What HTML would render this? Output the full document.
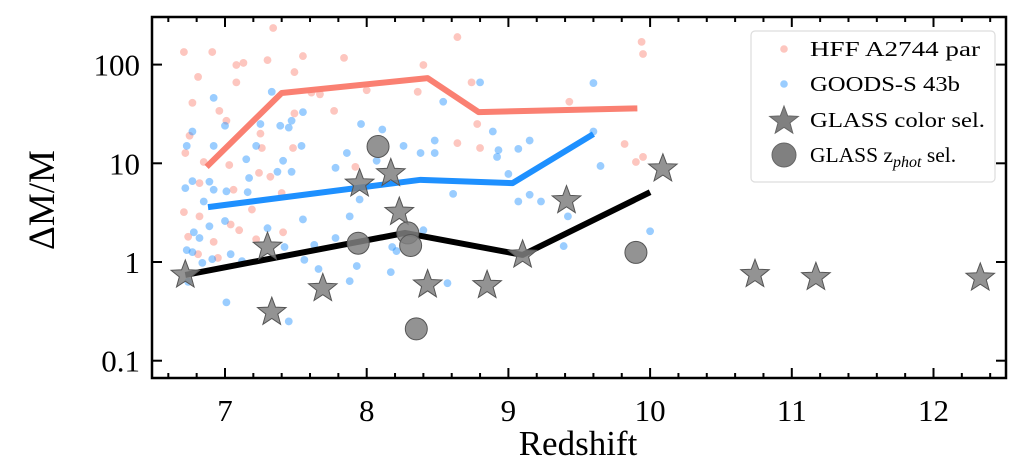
<!DOCTYPE html>
<html><head><meta charset="utf-8"><style>
html,body{margin:0;padding:0;background:#fff;}
svg{display:block;font-family:"Liberation Serif","DejaVu Serif",serif;}
</style></head><body>
<svg id="chart" width="1024" height="473" viewBox="0 0 1024 473" xmlns="http://www.w3.org/2000/svg">
<g id="marks"></g>
<g id="axes"></g>
<text x="578" y="455" font-size="35" text-anchor="middle">Redshift</text>
<text x="0" y="0" font-size="37" text-anchor="middle" transform="translate(54,200) rotate(-90)">ΔM/M</text>
<g>
<rect x="751" y="31" width="244" height="151" rx="4" fill="#fff" stroke="#ddd" stroke-width="1.2"/>
<circle cx="784" cy="49" r="3.8" fill="#fa8072" opacity="0.45"/>
<text x="810" y="56" font-size="21.5" textLength="170" lengthAdjust="spacingAndGlyphs">HFF A2744 par</text>
<circle cx="784" cy="84" r="3.8" fill="#1e90ff" opacity="0.45"/>
<text x="810" y="91" font-size="21.5" textLength="150" lengthAdjust="spacingAndGlyphs">GOODS-S 43b</text>
<polygon id="legstar" fill="#808080" stroke="#666" stroke-width="1"/>
<text x="810" y="127" font-size="21.5" textLength="175" lengthAdjust="spacingAndGlyphs">GLASS color sel.</text>
<circle cx="784" cy="155" r="12" fill="#808080" stroke="#666" stroke-width="1"/>
<text x="810" y="162" font-size="21.5">GLASS z<tspan font-style="italic" font-size="16" dy="5">phot</tspan><tspan dy="-5"> sel.</tspan></text>
</g>
</svg>
<script>
const hffZ=[6.71,6.91,7.34,7.08,7.13,7.30,7.55,7.84,8.40,6.81,7.08,7.49,6.77,6.96,7.01,7.49,7.77,7.25,7.26,7.48,6.75,6.72,6.85,7.03,7.24,7.32,7.92,6.82,7.06,7.40,7.19,6.71,6.82,7.04,7.10,6.74,6.92,7.41,7.22,6.81,6.95,8.0,8.36,7.67,7.61,8.64,9.94,9.95,8.74,9.43,8.78,8.64,8.80,9.82,9.90,9.95];
const hffV=[134,134,235,99,104,111,122,117,99,75,66,84,41,34,27,32,34,20,14.3,14.3,19,12.7,10.3,9.6,8.0,7.3,9.2,6.3,5.4,5.0,3.4,3.2,2.9,2.4,2.1,1.8,1.6,2.0,1.7,1.2,1.1,55,53,50,52,190,170,128,66,42,25,16,14.3,15.7,10.3,11.6];
const goodsZ=[6.92,7.33,7.55,7.0,7.25,7.39,7.45,7.47,7.96,8.11,8.54,6.77,6.73,6.92,7.22,7.54,8.26,8.48,8.48,7.86,8.07,8.38,7.15,7.41,7.47,7.37,7.78,7.17,6.77,6.72,6.89,6.92,7.01,7.16,6.85,7.95,7.55,7.88,6.89,6.78,7.0,6.82,7.30,6.73,6.77,7.04,6.84,6.91,7.12,7.42,7.63,7.56,7.66,7.78,7.93,8.17,8.18,8.21,8.40,8.57,7.88,7.01,7.45,6.74,8.80,9.60,9.6,8.89,9.15,8.93,8.92,9.07,9.65,9.0,8.61,9.07,9.15,9.23,9.42,9.39,10.0];
const goodsV=[46,53,33,24,25,24,23,27,25,22,42,21,15,15,15,15,15,17,12.7,12.7,10.6,12.7,11,10.6,8.2,8.2,9,7.1,6.6,5.6,6.5,5.4,5.2,5.1,4.1,4.3,2.7,2.9,2.3,2.0,2.6,1.75,2.2,1.32,1.26,1.2,0.98,1.07,1.02,1.42,1.49,1.05,0.85,1.75,0.91,0.79,1.42,1.29,2.1,0.61,0.64,0.39,0.25,0.63,66,65,21,21,17,13.6,11.6,14,9.4,7.8,4.9,4.1,4.8,4.1,2.9,1.45,2.05];
const hffLineZ=[6.87,7.40,8.43,8.79,9.91];
const hffLineV=[9.2,51.6,73,33,36];
const goodsLineZ=[6.88,8.38,9.03,9.60];
const goodsLineV=[3.6,6.8,6.3,19.8];
const glassLineZ=[6.72,8.27,9.10,10.0];
const glassLineV=[0.74,1.97,1.18,5.1];
const starZ=[6.72,7.30,7.33,7.69,7.95,8.17,8.23,8.43,8.85,9.10,9.41,10.09,10.74,11.17,12.33];
const starV=[0.74,1.42,0.31,0.54,6.2,7.9,3.2,0.59,0.58,1.18,4.2,8.8,0.75,0.70,0.69];
const circZ=[8.08,7.94,8.29,8.31,8.35,9.90];
const circV=[14.8,1.55,1.97,1.47,0.21,1.25];
const xTicks=[7,8,9,10,11,12];
const yTicks=[0.1,1,10,100];
const yTickLabels=["0.1","1","10","100"];

const L=152,R=1006,T=17,B=378;
const x=z=>225+(z-7)*141.7;
const y=v=>262-98.7*Math.log10(v);
const NS="http://www.w3.org/2000/svg";
const marks=document.getElementById('marks'), axes=document.getElementById('axes');
function mk(tag,attrs,parent){const e=document.createElementNS(NS,tag);for(const k in attrs)e.setAttribute(k,attrs[k]);parent.appendChild(e);return e;}
function starPts(cx,cy,r){let p=[];for(let i=0;i<10;i++){const a=-Math.PI/2+i*Math.PI/5;const rr=i%2?r*0.42:r;p.push((cx+rr*Math.cos(a)).toFixed(1)+','+(cy+rr*Math.sin(a)).toFixed(1));}return p.join(' ');}
document.getElementById('legstar').setAttribute('points',starPts(784,121,15));
const clip=mk('clipPath',{id:'pc'},marks);mk('rect',{x:L,y:T,width:R-L,height:B-T},clip);
const g=mk('g',{'clip-path':'url(#pc)'},marks);
hffZ.forEach((z,i)=>{const c=mk('circle',{cx:x(z),cy:y(hffV[i]),r:3.9,fill:'#fa8072',opacity:0.45},g);

});
goodsZ.forEach((z,i)=>{const c=mk('circle',{cx:x(z),cy:y(goodsV[i]),r:3.9,fill:'#1e90ff',opacity:0.45},g);

});
function line(zs,vs,col,name){const p=mk('polyline',{points:zs.map((z,i)=>x(z)+','+y(vs[i])).join(' '),fill:'none',stroke:col,'stroke-width':6,'stroke-linejoin':'round'},g);

}
line(hffLineZ,hffLineV,'#fa8072','hff-median-line');
line(goodsLineZ,goodsLineV,'#1e90ff','goods-median-line');
line(glassLineZ,glassLineV,'#000','glass-median-line');
starZ.forEach((z,i)=>{const s=mk('polygon',{points:starPts(x(z),y(starV[i]),15),fill:'#808080','fill-opacity':0.85,stroke:'#555','stroke-width':1},g);

});
circZ.forEach((z,i)=>{const c=mk('circle',{cx:x(z),cy:y(circV[i]),r:11,fill:'#808080','fill-opacity':0.85,stroke:'#555','stroke-width':1},g);

});
const frame=mk('rect',{x:L,y:T,width:R-L,height:B-T,fill:'none',stroke:'#000','stroke-width':2.5},axes);


for(let z=6.6;z<=12.61;z+=0.2){const px=x(z);if(px<L+1||px>R-1)continue;const major=Math.abs(z-Math.round(z))<0.01;const len=major?10:5;
mk('line',{x1:px,x2:px,y1:B,y2:B-len,stroke:'#000','stroke-width':2},axes);
mk('line',{x1:px,x2:px,y1:T,y2:T+len,stroke:'#000','stroke-width':2},axes);}
xTicks.forEach(v=>{const t=mk('text',{x:x(v),y:421,'font-size':31,'text-anchor':'middle'},axes);t.textContent=String(v);

});
yTicks.forEach((v,i)=>{const py=y(v);
mk('line',{x1:L,x2:L+10,y1:py,y2:py,stroke:'#000','stroke-width':2},axes);
mk('line',{x1:R,x2:R-10,y1:py,y2:py,stroke:'#000','stroke-width':2},axes);
const t=mk('text',{x:140,y:py+11,'font-size':31,'text-anchor':'end'},axes);t.textContent=yTickLabels[i];

});
</script>
</body></html>
